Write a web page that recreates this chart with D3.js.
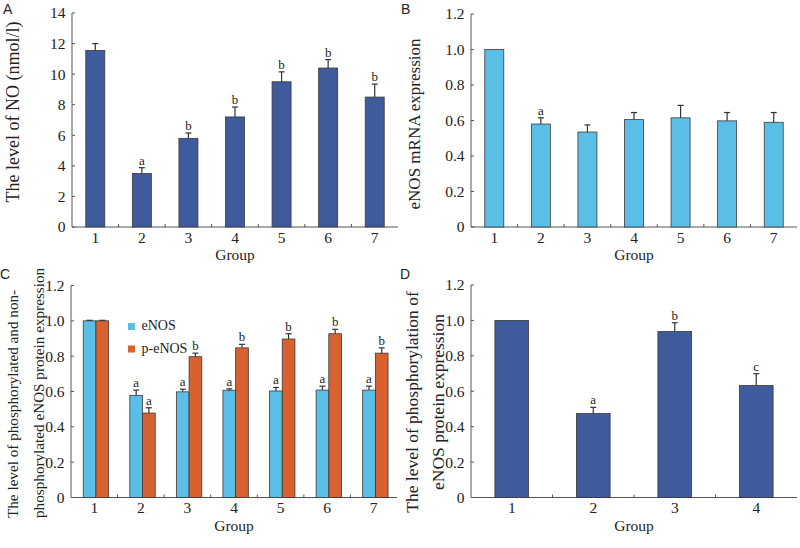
<!DOCTYPE html>
<html><head><meta charset="utf-8">
<script src="https://cdn.jsdelivr.net/npm/d3@7"></script>
<style>body{margin:0;background:#fff}svg{display:block}</style>
</head><body>
<svg id="c" width="800" height="548"></svg>
<script>
const groups7 = ["1","2","3","4","5","6","7"];
const groups4 = ["1","2","3","4"];
const noLevel = [11.55, 3.5, 5.8, 7.2, 9.5, 10.4, 8.5];
const noErr = [0.45, 0.38, 0.35, 0.65, 0.65, 0.55, 0.85];
const noSig = ["", "a", "b", "b", "b", "b", "b"];
const mrna = [1.0, 0.58, 0.535, 0.605, 0.615, 0.598, 0.59];
const mrnaErr = [0, 0.035, 0.04, 0.04, 0.07, 0.047, 0.055];
const mrnaSig = ["", "a", "", "", "", "", ""];
const eNOS = [1.0, 0.578, 0.598, 0.607, 0.603, 0.608, 0.608];
const eNOSErr = [0.003, 0.03, 0.015, 0.008, 0.02, 0.022, 0.022];
const eNOSSig = ["", "a", "a", "a", "a", "a", "a"];
const peNOS = [1.0, 0.478, 0.797, 0.847, 0.897, 0.927, 0.817];
const peNOSErr = [0.003, 0.03, 0.02, 0.02, 0.03, 0.025, 0.03];
const peNOSSig = ["", "a", "b", "b", "b", "b", "b"];
const phos = [1.0, 0.474, 0.937, 0.632];
const phosErr = [0, 0.035, 0.05, 0.067];
const phosSig = ["", "a", "b", "c"];
const ticksA = [0, 2, 4, 6, 8, 10, 12, 14];
const ticks12 = [0, 0.2, 0.4, 0.6, 0.8, 1.0, 1.2];

const svg = d3.select("#c");
const DARK = "#3f5b9d", LIGHT = "#5bbee6", ORANGE = "#d8612f";
const serif = "Liberation Serif, Times New Roman, serif";
const sans = "Liberation Sans, Arial, sans-serif";

function panel(o){
  const g = svg.append("g");
  const x = d3.scaleBand().domain(o.cats).range([o.x0, o.x1]);
  const y = d3.scaleLinear().domain([0, o.ymax]).range([o.y0, o.y1]);
  const axisCol = "#555";
  g.append("line").attr("x1", o.x0).attr("x2", o.x0).attr("y1", o.y0).attr("y2", o.y1).attr("stroke", axisCol);
  g.append("line").attr("x1", o.x0).attr("x2", o.x1).attr("y1", o.y0).attr("y2", o.y0).attr("stroke", axisCol);
  o.ticks.forEach(t => {
    g.append("line").attr("x1", o.x0).attr("x2", o.x0 + 3).attr("y1", y(t)).attr("y2", y(t)).attr("stroke", axisCol);
    g.append("text").attr("x", o.x0 - 6.5).attr("y", y(t)).attr("dy", "0.35em").attr("text-anchor", "end")
      .attr("font-family", serif).attr("font-size", 15.5).attr("fill", "#222").text(o.fmt(t));
  });
  o.cats.slice(1).forEach(c => {
    const xb = x(c);
    g.append("line").attr("x1", xb).attr("x2", xb).attr("y1", o.y0).attr("y2", o.y0 - 3).attr("stroke", axisCol);
  });
  o.cats.forEach(c => {
    g.append("text").attr("x", x(c) + x.bandwidth()/2).attr("y", o.y0 + 15.5).attr("text-anchor", "middle")
      .attr("font-family", serif).attr("font-size", 15.5).attr("fill", "#222").text(c);
  });
  g.append("text").attr("x", (o.x0 + o.x1)/2).attr("y", o.y0 + 33).attr("text-anchor", "middle")
    .attr("font-family", serif).attr("font-size", 15.5).attr("fill", "#222").text("Group");
  o.series.forEach(s => {
    o.cats.forEach((c, i) => {
      const cx = x(c) + x.bandwidth()/2 + s.off;
      const top = y(s.vals[i]);
      g.append("rect").attr("x", cx - s.w/2).attr("y", top).attr("width", s.w).attr("height", o.y0 - top)
        .attr("fill", s.color).attr("stroke", "#3a3a3a").attr("stroke-width", 0.8);
      if (s.err[i] > 0) {
        const et = y(s.vals[i] + s.err[i]);
        g.append("line").attr("x1", cx).attr("x2", cx).attr("y1", top).attr("y2", et).attr("stroke", "#333").attr("stroke-width", 1.2);
        g.append("line").attr("x1", cx - 3).attr("x2", cx + 3).attr("y1", et).attr("y2", et).attr("stroke", "#333").attr("stroke-width", 1.2);
      }
      if (s.sig[i]) {
        g.append("text").attr("x", cx).attr("y", y(s.vals[i] + s.err[i]) - 3).attr("text-anchor", "middle")
          .attr("font-family", serif).attr("font-size", 13).attr("fill", "#222").text(s.sig[i]);
      }
    });
  });
  o.title.forEach((line, k) => {
    g.append("text").attr("transform", `translate(${o.tx + k*o.tlh},${o.ty}) rotate(-90)`)
      .attr("text-anchor", o.anchor).attr("dy", "0.35em").attr("font-family", serif).attr("font-size", o.tfs).attr("fill", "#222").text(line);
  });
  g.append("text").attr("x", o.lx).attr("y", o.ly).attr("font-family", sans)
    .attr("font-size", 14).attr("fill", "#222").text(o.letter);
  return {g, x, y};
}

const f1 = d => d === 0 ? "0" : d3.format(".1f")(d);

panel({cats: groups7, x0: 72, x1: 398, y0: 227, y1: 13, ymax: 14, ticks: ticksA, fmt: d => String(d),
  series: [{vals: noLevel, err: noErr, sig: noSig, color: DARK, w: 19, off: 0}],
  title: ["The level of NO (nmol/l)"], tx: 12.7, ty: 112, tlh: 0, tfs: 18, anchor: "middle", letter: "A", lx: 3, ly: 14});

panel({cats: groups7, x0: 471, x1: 797, y0: 227, y1: 14, ymax: 1.2, ticks: ticks12, fmt: f1,
  series: [{vals: mrna, err: mrnaErr, sig: mrnaSig, color: LIGHT, w: 19, off: 0}],
  title: ["eNOS mRNA expression"], tx: 414.5, ty: 124, tlh: 0, tfs: 17, anchor: "middle", letter: "B", lx: 401, ly: 14});

const pc = panel({cats: groups7, x0: 71, x1: 397, y0: 497.5, y1: 285.5, ymax: 1.2, ticks: ticks12, fmt: f1,
  series: [{vals: eNOS, err: eNOSErr, sig: eNOSSig, color: LIGHT, w: 12.7, off: -4.7},
           {vals: peNOS, err: peNOSErr, sig: peNOSSig, color: ORANGE, w: 12.7, off: 8}],
  title: ["The level of phosphorylated and non-", "phosphorylated eNOS protein expression"], tx: 12.5, ty: 518, tlh: 25.8, tfs: 15.2, anchor: "start", letter: "C", lx: 0, ly: 279});

const legend = [{name: "eNOS", color: LIGHT}, {name: "p-eNOS", color: ORANGE}];
legend.forEach((l, i) => {
  pc.g.append("rect").attr("x", 128).attr("y", 323 + i*22.5).attr("width", 7).attr("height", 7).attr("fill", l.color);
  pc.g.append("text").attr("x", 141.5).attr("y", 330 + i*22.5).attr("font-family", serif).attr("font-size", 14).attr("fill", "#222").text(l.name);
});

panel({cats: groups4, x0: 471, x1: 797, y0: 497.5, y1: 285, ymax: 1.2, ticks: ticks12, fmt: f1,
  series: [{vals: phos, err: phosErr, sig: phosSig, color: DARK, w: 33.7, off: 0}],
  title: ["The level of phosphorylation of", "eNOS protein expression"], tx: 412, ty: 402, tlh: 25.5, tfs: 17.5, anchor: "middle", letter: "D", lx: 400, ly: 279});
</script>
</body></html>
